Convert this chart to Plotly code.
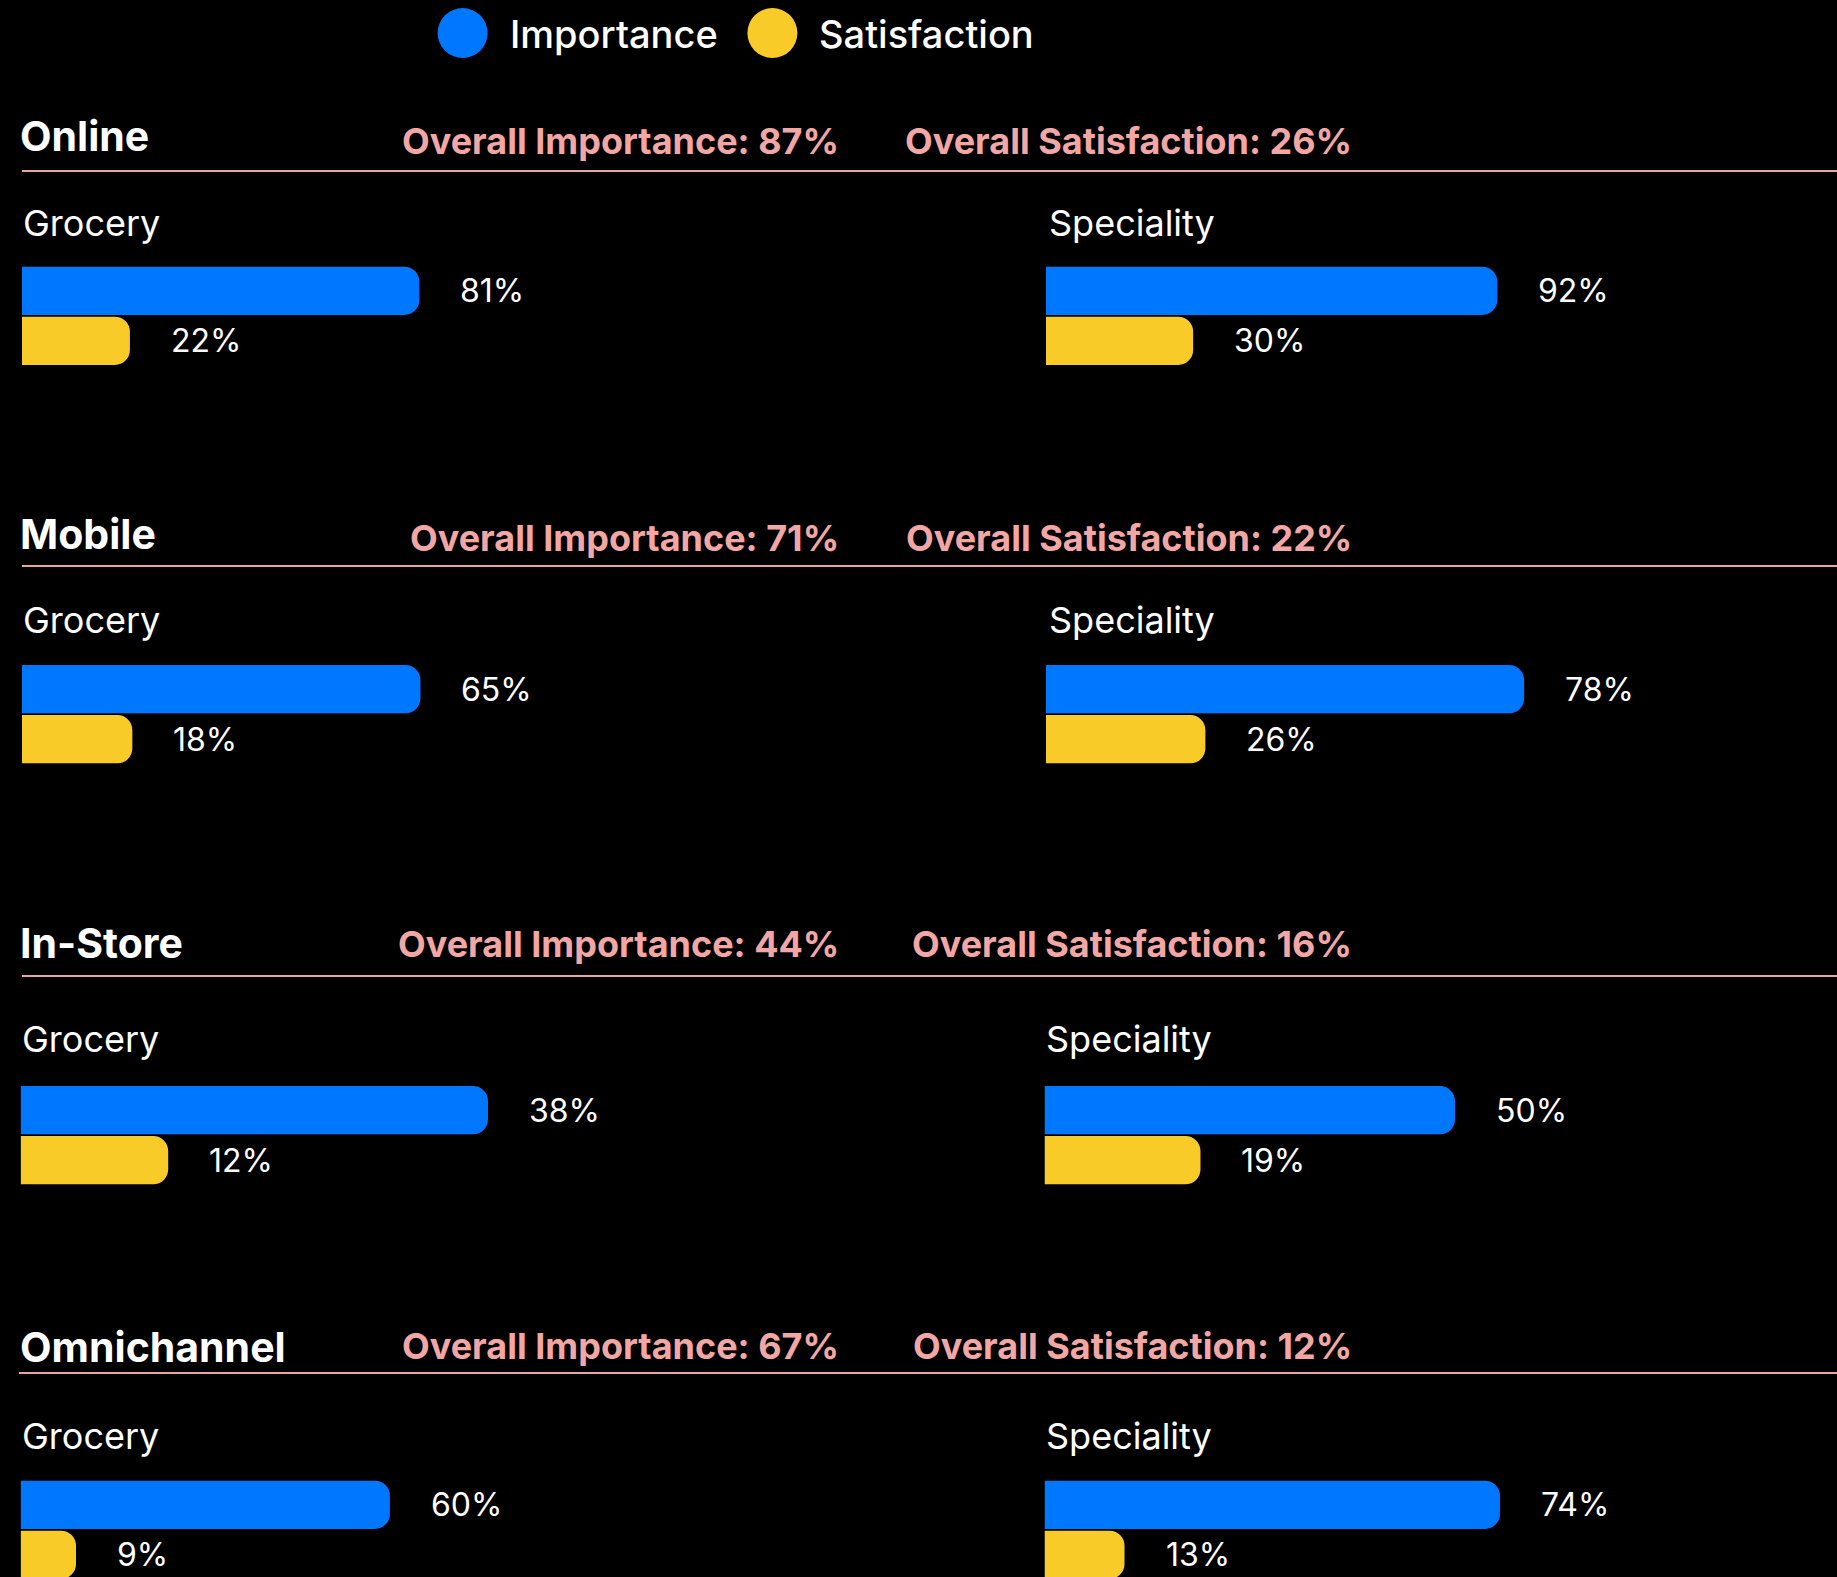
import plotly.graph_objects as go

# ---------------- data ----------------
channels = ["Online", "Mobile", "In-Store", "Omnichannel"]
overall_importance = [87, 71, 44, 67]
overall_satisfaction = [26, 22, 16, 12]
segments = ["Grocery", "Speciality"]
series = ["Importance", "Satisfaction"]
grocery_importance = [81, 65, 38, 60]
grocery_satisfaction = [22, 18, 12, 9]
speciality_importance = [92, 78, 50, 74]
speciality_satisfaction = [30, 26, 19, 13]

# ---------------- style / layout ----------------
W, H = 1837, 1577
BLUE = "#0077FF"
YELLOW = "#F9CB28"
PINK = "#F2A7A5"
LINE_PINK = "#E9A3A1"
WHITE = "#FFFFFF"
FONT = "Inter, 'Open Sans', sans-serif"

# pixel positions per section
title_y = [136, 534, 943, 1347]
overall_y = [141, 538, 944, 1345.5]
line_y = [171, 566, 976, 1373]
label_y = [223.5, 620, 1039, 1436.4]
bar_top = [265.8, 664.2, 1085.2, 1479.8]
groc_left = [22, 22, 20.6, 20.6]
spec_left = [1046, 1046, 1044.5, 1044.5]
spec_label_left = [1047, 1047, 1043.5, 1043.5]
# px per percentage point for (grocery, speciality) panels
px_per_pct = [(4.905, 4.905), (6.13, 6.13), (12.3, 8.21), (6.155, 6.155)]
SLOT = 50.0  # px per category slot
GROC_W = 800.0

def px(x):
    return x / W

def py(y):
    return 1 - y / H

fig = go.Figure()
annotations = []
shapes = []
layout_axes = {}

imp_lists = [grocery_importance, speciality_importance]
sat_lists = [grocery_satisfaction, speciality_satisfaction]

n = 0
for i, ch in enumerate(channels):
    for j, seg in enumerate(segments):
        n += 1
        xa = "x" if n == 1 else f"x{n}"
        ya = "y" if n == 1 else f"y{n}"
        left = groc_left[i] if j == 0 else spec_left[i]
        width = GROC_W if j == 0 else (W - left)
        rng = width / px_per_pct[i][j]
        top = bar_top[i]
        bottom = min(top + 2 * SLOT, H)
        span = (bottom - top) / SLOT
        vals = [imp_lists[j][i], sat_lists[j][i]]
        fig.add_trace(go.Bar(
            x=vals, y=series, orientation="h",
            marker=dict(color=[BLUE, YELLOW], line=dict(width=0)),
            xaxis=xa, yaxis=ya, showlegend=False, hoverinfo="skip",
        ))
        layout_axes["xaxis" if n == 1 else f"xaxis{n}"] = dict(
            domain=[px(left), px(left + width)], range=[0, rng], visible=False,
            anchor=ya, fixedrange=True,
        )
        layout_axes["yaxis" if n == 1 else f"yaxis{n}"] = dict(
            domain=[py(bottom), py(top)], range=[-0.5 + span, -0.5], visible=False,
            anchor=xa, type="category", categoryorder="array", categoryarray=series,
            fixedrange=True,
        )
        for k, v in enumerate(vals):
            annotations.append(dict(
                x=v, y=series[k], xref=xa, yref=ya, text=f"{v}%",
                xanchor="left", yanchor="middle", xshift=39, showarrow=False,
                font=dict(family=FONT, size=32, color=WHITE),
            ))
        # segment label
        annotations.append(dict(
            x=px(groc_left[i] - 1 if j == 0 else spec_label_left[i]), y=py(label_y[i]),
            xref="paper", yref="paper", text=seg, xanchor="left", yanchor="middle",
            showarrow=False, font=dict(family=FONT, size=36, color=WHITE),
        ))
    # section title
    annotations.append(dict(
        x=px(18), y=py(title_y[i]), xref="paper", yref="paper", text=f"<b>{ch}</b>",
        xanchor="left", yanchor="middle", showarrow=False,
        font=dict(family=FONT, size=41, color=WHITE),
    ))
    annotations.append(dict(
        x=px(841), y=py(overall_y[i]), xref="paper", yref="paper",
        text=f"<b>Overall Importance: {overall_importance[i]}%</b>",
        xanchor="right", yanchor="middle", showarrow=False,
        font=dict(family=FONT, size=36, color=PINK),
    ))
    annotations.append(dict(
        x=px(1354), y=py(overall_y[i]), xref="paper", yref="paper",
        text=f"<b>Overall Satisfaction: {overall_satisfaction[i]}%</b>",
        xanchor="right", yanchor="middle", showarrow=False,
        font=dict(family=FONT, size=36, color=PINK),
    ))
    shapes.append(dict(
        type="line", xref="paper", yref="paper",
        x0=px(22 if i < 3 else 19), x1=1, y0=py(line_y[i]), y1=py(line_y[i]),
        line=dict(color=LINE_PINK, width=2),
    ))

# legend (drawn manually with large circles)
legend_cx = [462.6, 772.4]
legend_colors = [BLUE, YELLOW]
R = 25
for cx, col, name in zip(legend_cx, legend_colors, series):
    shapes.append(dict(
        type="circle", xref="paper", yref="paper",
        x0=px(cx - R), x1=px(cx + R), y0=py(33 + R), y1=py(33 - R),
        fillcolor=col, line=dict(width=0),
    ))
    annotations.append(dict(
        x=px(cx + 45), y=py(34), xref="paper", yref="paper", text=name,
        xanchor="left", yanchor="middle", showarrow=False,
        font=dict(family=FONT, size=38, color=WHITE, weight=500),
    ))

fig.update_layout(
    width=W, height=H,
    margin=dict(l=0, r=0, t=0, b=0),
    paper_bgcolor="#000000", plot_bgcolor="#000000",
    barmode="overlay", bargap=0.034, barcornerradius=15,
    annotations=annotations, shapes=shapes,
    showlegend=False,
    **layout_axes,
)

fig.write_html(
    "out.html",
    config={"displayModeBar": False},
    post_script="document.body.style.margin='0';document.body.style.padding='0';"
                "document.body.style.overflow='hidden';"
                "document.body.style.background='#000';",
)
